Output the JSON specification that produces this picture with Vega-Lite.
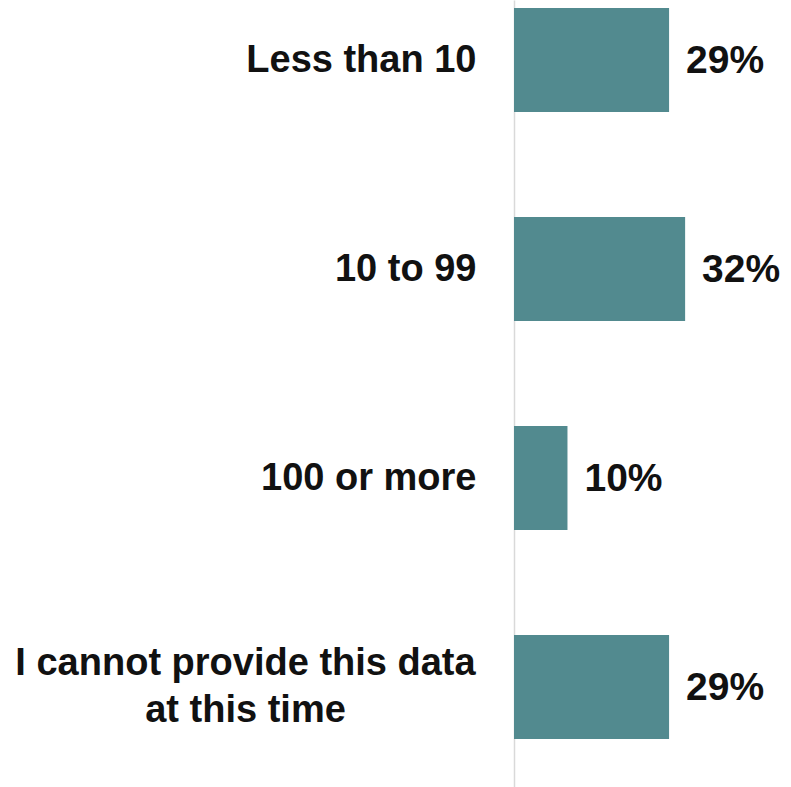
{
  "$schema": "https://vega.github.io/schema/vega-lite/v6.json",
  "autosize": {"type": "none"},
  "padding": {"left": 514, "top": 0, "right": 0, "bottom": 0},
  "width": 277,
  "height": 787,
  "background": "white",
  "config": {"view": {"stroke": null}},
  "data": {
    "values": [
      {"category": "Less than 10", "value": 29, "label": "29%"},
      {"category": "10 to 99", "value": 32, "label": "32%"},
      {"category": "100 or more", "value": 10, "label": "10%"},
      {"category": "I cannot provide this data\nat this time", "value": 29, "label": "29%"}
    ]
  },
  "encoding": {
    "y": {
      "field": "category",
      "type": "nominal",
      "sort": null,
      "scale": {"paddingInner": 0.5024, "paddingOuter": 0.134, "align": 0.143},
      "axis": {
        "title": null,
        "ticks": false,
        "tickSize": 0,
        "labelPadding": {"condition": {"test": "indexof(datum.value, 'cannot') >= 0", "value": 269}, "value": 38},
        "labelAlign": {"condition": {"test": "indexof(datum.value, 'cannot') >= 0", "value": "center"}, "value": "right"},
        "labelOffset": {"condition": {"test": "indexof(datum.value, 'cannot') >= 0", "value": -23}, "value": 1},
        "labelFont": "Liberation Sans",
        "labelFontWeight": "bold",
        "labelFontSize": 38,
        "labelColor": "#111111",
        "labelLimit": 600,
        "labelLineHeight": 47,
        "domainColor": "#d9d9d9",
        "domainWidth": 1.5,
        "grid": false,
        "labelExpr": "split(datum.label, '\\n')"
      }
    },
    "x": {
      "field": "value",
      "type": "quantitative",
      "scale": {"domain": [0, 51.8]},
      "axis": null
    }
  },
  "layer": [
    {"mark": {"type": "bar", "color": "#528a8f"}},
    {
      "mark": {
        "type": "text",
        "align": "left",
        "baseline": "middle",
        "dx": 17,
        "dy": 1,
        "font": "Liberation Sans",
        "fontWeight": "bold",
        "fontSize": 39,
        "color": "#111111"
      },
      "encoding": {"text": {"field": "label"}}
    }
  ]
}
